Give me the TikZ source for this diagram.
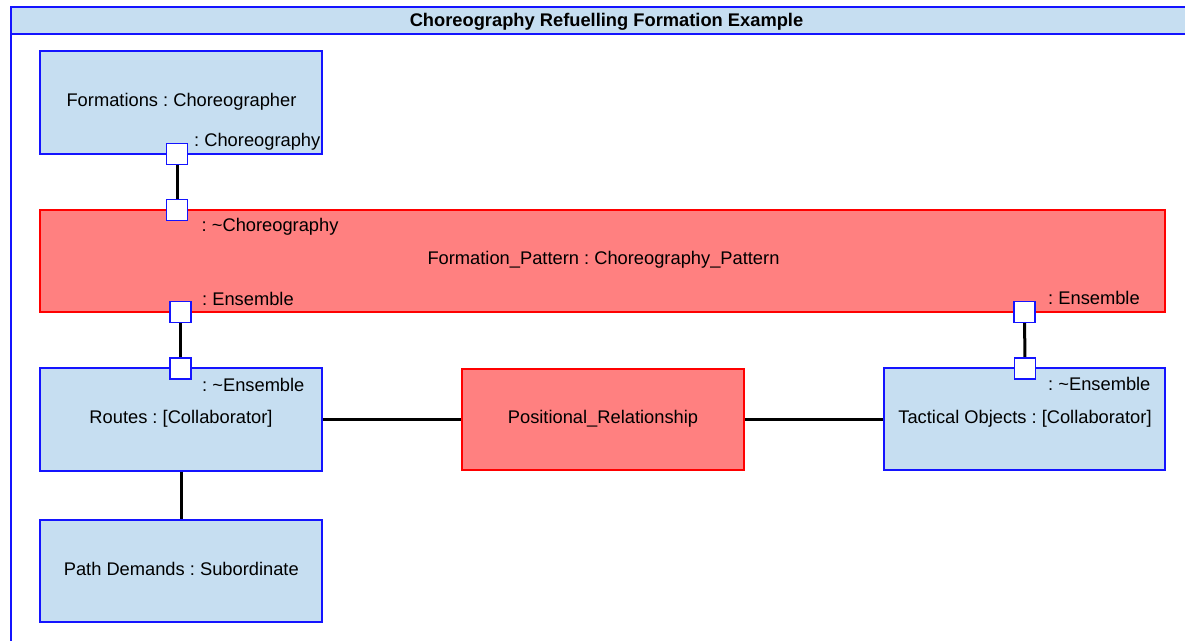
\documentclass[tikz,border=0pt]{standalone}
\usepackage{fontspec}
\setmainfont{Liberation Sans}
\frenchspacing
\definecolor{umlblue}{RGB}{20,20,255}
\definecolor{partfill}{RGB}{198,222,241}
\definecolor{rolefill}{RGB}{255,128,128}
\definecolor{roleedge}{RGB}{255,0,0}
\begin{document}
\begin{tikzpicture}[x=1pt,y=-1pt,
  txt/.style={font=\fontsize{18.3}{21}\selectfont, inner sep=0pt, anchor=base},
  plabel/.style={font=\fontsize{18.3}{21}\selectfont, inner sep=0pt, anchor=base west},
  part/.style={draw=umlblue, fill=partfill, line width=1.3pt, inner sep=0pt},
  rolebox/.style={draw=roleedge, fill=rolefill, line width=1.3pt, inner sep=0pt},
  port/.style={draw=umlblue, fill=white, line width=1.3pt, minimum size=21pt, inner sep=0pt},
  link/.style={line width=3pt, black}
]
\useasboundingbox (0,0) rectangle (1185,640);
\clip (0,0) rectangle (1185,640);
\fill[white] (0,0) rectangle (1185,640);

% diagram frame and its heading
\draw[umlblue, line width=1.3pt] (11,660) -- (11,7);
\draw[umlblue, fill=partfill, line width=1.3pt] (11,7) rectangle (1200,34);
\node[txt, font=\fontsize{18.3}{21}\selectfont\bfseries] (title) at (606.5,26.5) {Choreography Refuelling Formation Example};

% parts
\node[part, minimum width=282pt, minimum height=103pt] (form) at (181,102.5) {};
\node[txt] (formtxt) at (181.5,106) {Formations : Choreographer};

\node[rolebox, minimum width=1125pt, minimum height=102pt] (pattern) at (602.5,261) {};
\node[txt] (patterntxt) at (603.5,264) {Formation\_Pattern : Choreography\_Pattern};

\node[part, minimum width=282pt, minimum height=103pt] (routes) at (181,419.5) {};
\node[txt] (routestxt) at (181,423) {Routes : [Collaborator]};

\node[rolebox, minimum width=282pt, minimum height=101pt] (posrel) at (603,419.5) {};
\node[txt] (posreltxt) at (603,423) {Positional\_Relationship};

\node[part, minimum width=281pt, minimum height=102pt] (tactical) at (1024.5,419) {};
\node[txt] (tacticaltxt) at (1025,423) {Tactical Objects : [Collaborator]};

\node[part, minimum width=282pt, minimum height=102pt] (path) at (181,571) {};
\node[txt] (pathtxt) at (181.3,575) {Path Demands : Subordinate};

% connectors between parts
\draw[link] (routes.east |- 0,419) -- (posrel.west |- 0,419);
\draw[link] (posrel.east |- 0,419) -- (tactical.west |- 0,419);
\draw[link] (routes.south) -- (path.north);

% ports and the links joining them
\coordinate (pc1) at (177,154);
\coordinate (pc2) at (177,210);
\coordinate (pe1) at (180.5,312);
\coordinate (pe2) at (180.5,368.5);
\coordinate (pe3) at (1024.5,312);
\coordinate (pe4) at (1025,368.5);
\draw[link] (pc1) -- (pc2);
\draw[link] (pe1) -- (pe2);
\draw[link] (pe3) -- (pe4);
\node[port] (choreo) at (pc1) {};
\node[port] (antichoreo) at (pc2) {};
\node[port] (ensL) at (pe1) {};
\node[port] (antiensL) at (pe2) {};
\node[port] (ensR) at (pe3) {};
\node[port] (antiensR) at (pe4) {};

% port labels
\node[plabel] (lchoreo) at (194,146) {: Choreography};
\node[plabel] (lantichoreo) at (201.5,231.5) {: \textasciitilde Choreography};
\node[plabel] (lensL) at (202,305) {: Ensemble};
\node[plabel] (lantiensL) at (202,391.5) {: \textasciitilde Ensemble};
\node[plabel] (lensR) at (1048,304) {: Ensemble};
\node[plabel] (lantiensR) at (1048,390.5) {: \textasciitilde Ensemble};
\end{tikzpicture}
\end{document}
